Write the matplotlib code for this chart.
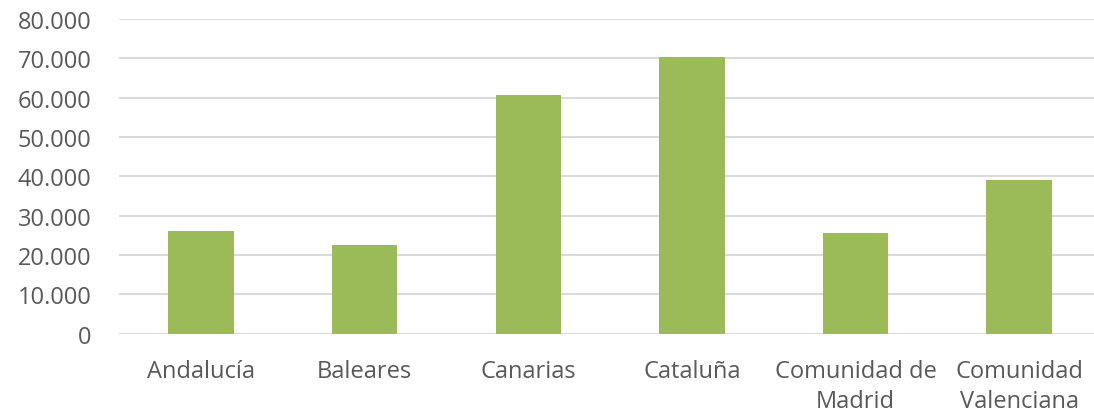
import matplotlib.pyplot as plt
from matplotlib.ticker import FuncFormatter

# Regions and their values
regiones = ['Andalucía', 'Baleares', 'Canarias', 'Cataluña',
            'Comunidad de\nMadrid', 'Comunidad\nValenciana']
valores = [26000, 22500, 60700, 70300, 25700, 39100]

bar_color = '#9BBB59'
grid_color = '#D9D9D9'
text_color = '#595959'

plt.rcParams['font.family'] = ['Open Sans', 'DejaVu Sans']

fig = plt.figure(figsize=(10.94, 4.14), dpi=100)
ax = fig.add_axes([0.1090, 0.1915, 0.8973, 0.7602])

x = range(len(regiones))
ax.bar(x, valores, width=0.4, color=bar_color, zorder=3)

ax.set_xlim(-0.5, len(regiones) - 0.5)
ax.set_ylim(0, 80000)
ax.set_yticks(range(0, 80001, 10000))
ax.yaxis.set_major_formatter(
    FuncFormatter(lambda v, p: f'{int(v):,}'.replace(',', '.')))
ax.set_xticks(list(x))
ax.set_xticklabels(regiones, linespacing=1.35)

ax.grid(axis='y', color=grid_color, linewidth=1.4, zorder=0)
for side in ['top', 'right', 'left', 'bottom']:
    ax.spines[side].set_visible(False)
ax.tick_params(axis='both', length=0, labelsize=17, colors=text_color)
ax.tick_params(axis='y', pad=20)
ax.tick_params(axis='x', pad=18)

fig.savefig('out.png', dpi=100)
